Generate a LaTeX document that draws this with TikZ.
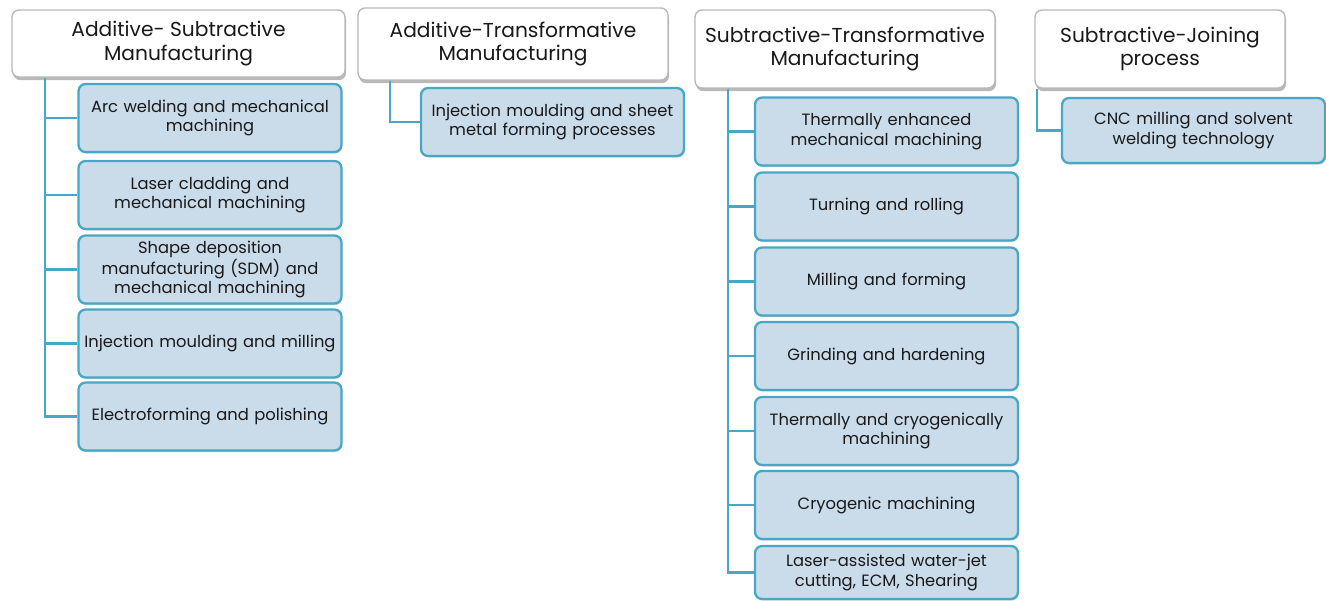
\documentclass[tikz,border=0pt]{standalone}
\usepackage{fontspec}
\setmainfont{Poppins}
\usepackage{tikz}
\usetikzlibrary{shadows}
\definecolor{boxblue}{RGB}{202,219,234}
\definecolor{lineblue}{RGB}{70,168,196}
\definecolor{headgrey}{RGB}{185,185,185}
\definecolor{inkgrey}{RGB}{25,25,25}

\tikzset{
    headbox/.style={rectangle, draw=headgrey, thick, rounded corners=4pt, fill=white,
          align=center, inner sep=2pt, text=inkgrey, font=\fontsize{11.5}{13.5}\selectfont,
          drop shadow={shadow xshift=0.6pt, shadow yshift=-1.8pt, fill=black!55}},
    subbox/.style={rectangle, draw=lineblue, line width=1.3pt, rounded corners=4pt, fill=boxblue,
          align=center, inner sep=1pt, text width=5.12cm, minimum width=5.26cm, minimum height=1.36cm,
          text=inkgrey, font=\fontsize{9.3}{11}\selectfont,
          drop shadow={shadow xshift=0.4pt, shadow yshift=-0.9pt, fill=black!35}},
    link/.style={draw=lineblue, line width=1.5pt}
}

\begin{document}
\begin{tikzpicture}[x=0.02cm, y=-0.02cm]
    \useasboundingbox (0,0) rectangle (1326,601);

    \node[headbox, minimum width=6.66cm, minimum height=1.34cm] (addsub) at (178.5,43.5)
      {Additive- Subtractive\\Manufacturing};
    \node[headbox, minimum width=6.2cm, minimum height=1.44cm] (addtra) at (513,44)
      {Additive-Transformative\\Manufacturing};
    \node[headbox, minimum width=6.0cm, minimum height=1.56cm] (subtra) at (845,49)
      {Subtractive-Transformative\\Manufacturing};
    \node[headbox, minimum width=5.0cm, minimum height=1.56cm] (subjoi) at (1160,49)
      {Subtractive-Joining\\process};

    \node[subbox] (arcweld) at (210,118) {Arc welding and mechanical\\machining};
    \node[subbox] (lasclad) at (210,195) {Laser cladding and\\mechanical machining};
    \node[subbox] (sdm) at (210,269.5) {Shape deposition\\manufacturing (SDM) and\\mechanical machining};
    \node[subbox] (injmill) at (210,343.5) {Injection moulding and milling};
    \node[subbox] (electro) at (210,416.5) {Electroforming and polishing};

    \node[subbox] (injsheet) at (552.5,122) {Injection moulding and sheet\\metal forming processes};

    \node[subbox] (thermech) at (886.5,131.5) {Thermally enhanced\\mechanical machining};
    \node[subbox] (turnroll) at (886.5,206.5) {Turning and rolling};
    \node[subbox] (millform) at (886.5,281.5) {Milling and forming};
    \node[subbox] (grindhard) at (886.5,356) {Grinding and hardening};
    \node[subbox] (thercryo) at (886.5,431) {Thermally and cryogenically\\machining};
    \node[subbox] (cryomach) at (886.5,505) {Cryogenic machining};
    \node[subbox, minimum height=1.06cm] (laserjet) at (886.5,572.5) {Laser-assisted water-jet\\cutting, ECM, Shearing};

    \node[subbox, minimum height=1.3cm] (cncweld) at (1193.5,130.5) {CNC milling and solvent\\welding technology};

    \coordinate (spineA) at (45,0);
    \coordinate (spineB) at (390,0);
    \coordinate (spineC) at (728,0);
    \coordinate (spineD) at (1037,0);

    \foreach \kid in {arcweld,lasclad,sdm,injmill,electro}
      \draw[link] (addsub.south -| spineA) |- (\kid.west);
    \draw[link] (addtra.south -| spineB) |- (injsheet.west);
    \foreach \kid in {thermech,turnroll,millform,grindhard,thercryo,cryomach,laserjet}
      \draw[link] (subtra.south -| spineC) |- (\kid.west);
    \draw[link] (subjoi.south -| spineD) |- (cncweld.west);
  \end{tikzpicture}
\end{document}
